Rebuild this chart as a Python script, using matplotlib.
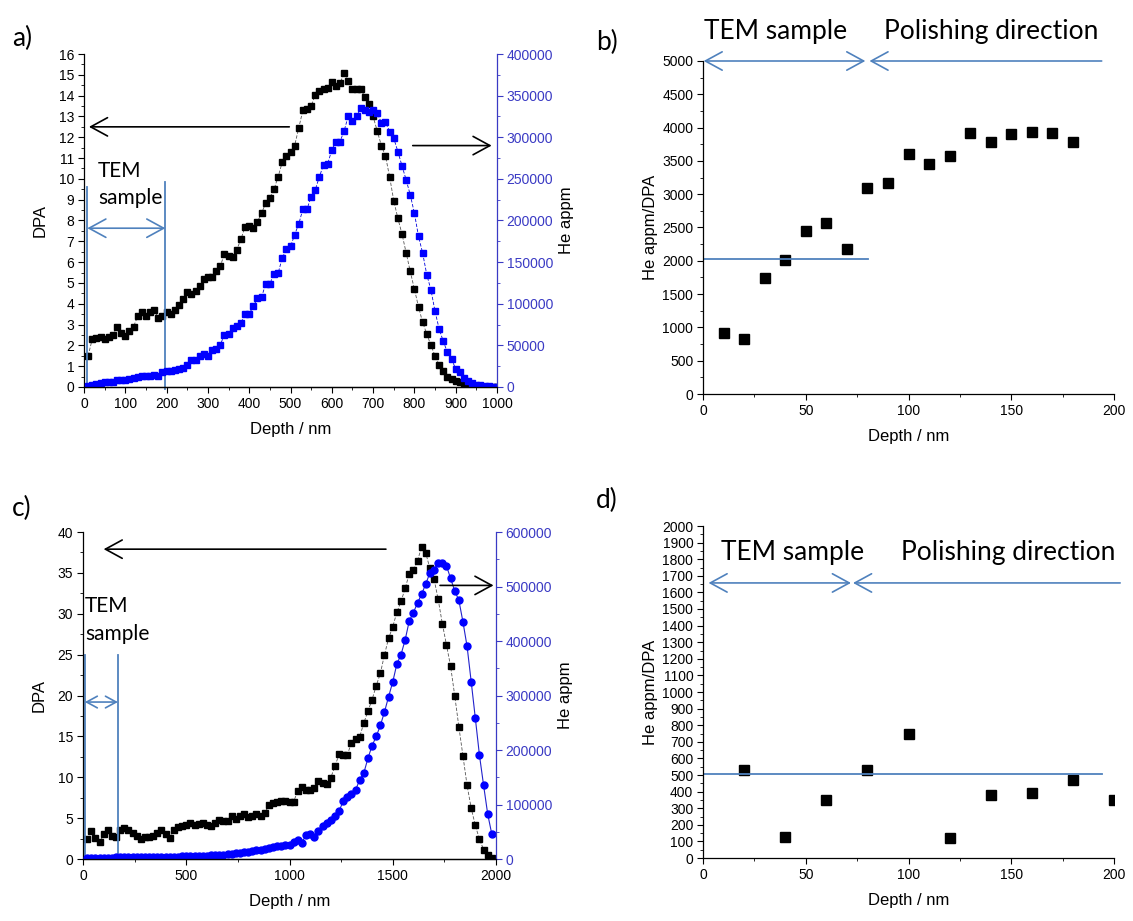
import matplotlib
matplotlib.use("Agg")
import matplotlib.pyplot as plt
import numpy as np
from matplotlib.ticker import MultipleLocator, FormatStrFormatter

# ---- panel a: DPA and He appm vs depth (10 nm bins) ----
depth_a = np.arange(10, 1001, 10)
dpa_a = [
    1.5, 2.3, 2.35, 2.4, 2.3, 2.4, 2.5, 2.9, 2.6, 2.45,
    2.7, 2.9, 3.4, 3.6, 3.4, 3.6, 3.7, 3.3, 3.4, 3.6,
    3.5, 3.7, 3.95, 4.25, 4.55, 4.45, 4.6, 4.85, 5.2, 5.3,
    5.3, 5.55, 5.8, 6.4, 6.3, 6.25, 6.6, 7.1, 7.7, 7.75,
    7.65, 7.95, 8.35, 8.85, 9.1, 9.5, 10.1, 10.8, 11.1, 11.3,
    11.6, 12.45, 13.3, 13.35, 13.5, 14.05, 14.2, 14.3, 14.35, 14.65,
    14.45, 14.6, 15.1, 14.7, 14.3, 14.3, 14.3, 13.95, 13.6, 13.0,
    12.3, 11.6, 11.1, 10.1, 8.95, 8.1, 7.35, 6.45, 5.55, 4.7,
    3.85, 3.1, 2.55, 2.0, 1.5, 1.05, 0.75, 0.5, 0.38, 0.3,
    0.22, 0.15, 0.1, 0.06, 0.03, 0.02, 0.01, 0.0, 0.0, 0.0,
]
he_a = [
    1600, 2800, 4000, 4800, 5600, 5600, 5600, 8000, 8800, 8800,
    9600, 10400, 12000, 12800, 12800, 13600, 14400, 12800, 17600, 18800,
    18800, 20000, 21600, 22800, 26800, 32800, 32000, 36800, 40000, 37600,
    44800, 45600, 50800, 62800, 64000, 70800, 72800, 76800, 88000, 88000,
    96800, 106800, 108000, 124000, 124000, 136000, 136800, 154800, 165600, 168800,
    182800, 196000, 213600, 213600, 228800, 236800, 252800, 266800, 268000, 284800,
    294800, 294800, 308000, 325600, 320000, 325600, 334800, 332800, 330800, 332800,
    328800, 317600, 318400, 306800, 298800, 282800, 265600, 248800, 230800, 208800,
    180800, 160800, 134800, 116800, 90800, 69600, 54800, 41600, 33600, 21600,
    17600, 10800, 6800, 4800, 2800, 2000, 800, 800, 0, 0,
]

# ---- panel b: He appm/DPA ----
depth_b = [10, 20, 30, 40, 50, 60, 70, 80, 90, 100, 110, 120, 130, 140, 150, 160, 170, 180]
ratio_b = [920, 820, 1740, 2010, 2440, 2570, 2170, 3100, 3170, 3610,
           3450, 3580, 3920, 3780, 3900, 3940, 3920, 3790]

# ---- panel c: DPA and He appm vs depth (20 nm bins) ----
depth_c = np.arange(20, 2001, 20)
dpa_c = [
    2.45, 3.4, 2.6, 2.05, 3.0, 3.6, 2.8, 2.7, 3.6, 3.8,
    3.6, 3.2, 2.8, 2.5, 2.7, 2.7, 2.8, 3.2, 3.5, 3.0,
    2.6, 3.6, 3.9, 4.0, 4.2, 4.4, 4.2, 4.3, 4.4, 4.1,
    4.0, 4.35, 4.8, 4.6, 4.7, 5.2, 4.9, 5.2, 5.45, 5.15,
    5.3, 5.45, 5.25, 5.6, 6.6, 6.9, 7.0, 7.1, 7.05, 7.0,
    7.0, 8.35, 8.8, 8.4, 8.5, 8.7, 9.55, 9.3, 9.2, 9.95,
    11.35, 12.8, 12.75, 12.75, 14.2, 14.7, 14.95, 16.65, 18.1, 19.5,
    21.2, 22.7, 25.0, 27.0, 28.4, 30.2, 31.5, 33.1, 34.9, 35.4,
    36.5, 38.2, 37.4, 35.55, 34.25, 31.75, 28.8, 26.2, 23.6, 20.0,
    16.2, 12.6, 9.0, 6.2, 4.1, 2.4, 1.15, 0.45, 0.15, 0.0,
]
depth_c_he = np.arange(20, 1981, 20)
he_c = [
    1500, 2000, 2000, 2000, 2500, 2500, 2500, 2800, 2800, 3000,
    3000, 3000, 3200, 3200, 3500, 3500, 3500, 3800, 3800, 4000,
    4200, 4200, 4500, 4800, 5000, 5200, 5500, 5500, 5800, 6000,
    6500, 7000, 7500, 8000, 9000, 9500, 10500, 11500, 12500, 13500,
    15000, 16500, 17000, 18500, 19500, 21500, 23000, 24300, 25600, 26500,
    32000, 35000, 30000, 44000, 46000, 40000, 51800, 59800, 65300, 72300,
    78500, 88000, 106000, 113000, 120000, 127000, 145000, 158000, 185000, 208000,
    225000, 245000, 270000, 298000, 325000, 358000, 375000, 402000, 437000, 452000,
    470000, 486000, 505000, 525000, 531000, 544000, 544000, 538000, 515000, 492000,
    475000, 435000, 390000, 325000, 258000, 190000, 135000, 82000, 45000,
]

# ---- panel d: He appm/DPA ----
depth_d = [20, 40, 60, 80, 100, 120, 140, 160, 180, 200]
ratio_d = [532, 126, 351, 528, 744, 120, 377, 393, 471, 347]

W, H = 1133, 921
AX_FONT = "Liberation Sans"
NOTE_FONT = "Lato"
NOTE_BLUE = "#4F81BD"
AXIS_BLUE = "#3a3ac4"
TICK_SIZE = 10
LABEL_SIZE = 12

plt.rcParams.update({
    "font.family": AX_FONT, "font.size": TICK_SIZE,
    "xtick.direction": "out", "ytick.direction": "out",
    "xtick.major.size": 4, "ytick.major.size": 4,
    "xtick.minor.size": 2.5, "ytick.minor.size": 2.5,
    "xtick.major.pad": 3, "ytick.major.pad": 3,
    "axes.linewidth": 0.9,
})

fig = plt.figure(figsize=(W / 100, H / 100), dpi=100)


def box(left, right, top, bottom):
    return [left / W, 1 - bottom / H, (right - left) / W, (bottom - top) / H]


def style(ax):
    ax.spines["top"].set_visible(False)
    ax.spines["right"].set_visible(False)
    ax.tick_params(labelsize=TICK_SIZE)


def style_right(ax2):
    ax2.spines["top"].set_visible(False)
    ax2.spines["left"].set_visible(False)
    ax2.spines["right"].set_color(AXIS_BLUE)
    ax2.tick_params(axis="y", which="both", colors=AXIS_BLUE, labelsize=TICK_SIZE)


def arrow(ax, start, end, color, style_="->", lw=1.2, scale=22):
    ax.annotate("", xy=end, xytext=start, annotation_clip=False,
                arrowprops=dict(arrowstyle=style_ + ",head_length=0.55,head_width=0.3",
                                color=color, lw=lw, shrinkA=0, shrinkB=0,
                                mutation_scale=scale))


def panel_letter(x, y, s):
    fig.text(x / W, 1 - y / H, s, fontsize=19, family=NOTE_FONT, va="center")


# ---------------- panel a ----------------
ax_a = fig.add_axes(box(84, 497, 54, 387))
ax_a2 = ax_a.twinx()
ax_a.plot(depth_a, dpa_a, ls=(0, (4, 2)), lw=0.6, color="#555555",
          marker="s", ms=5, mfc="black", mec="black")
ax_a2.plot(depth_a, he_a, ls=(0, (4, 2)), lw=0.6, color="#0000dd",
           marker="s", ms=5, mfc="#0000ff", mec="#0000ff")
ax_a.set_xlim(0, 1000)
ax_a.set_ylim(0, 16)
ax_a2.set_ylim(0, 400000)
ax_a.xaxis.set_major_locator(MultipleLocator(100))
ax_a.xaxis.set_minor_locator(MultipleLocator(50))
ax_a.yaxis.set_major_locator(MultipleLocator(1))
ax_a.yaxis.set_minor_locator(MultipleLocator(0.5))
ax_a2.yaxis.set_major_locator(MultipleLocator(50000))
ax_a2.yaxis.set_minor_locator(MultipleLocator(25000))
ax_a2.yaxis.set_major_formatter(FormatStrFormatter("%d"))
style(ax_a)
style_right(ax_a2)
ax_a.set_xlabel("Depth / nm", fontsize=LABEL_SIZE, labelpad=8)
ax_a.set_ylabel("DPA", fontsize=LABEL_SIZE, labelpad=8)
ax_a2.set_ylabel("He appm", fontsize=LABEL_SIZE, labelpad=4)

ax_a.plot([8, 8], [0, 9.6], color=NOTE_BLUE, lw=1.3)
ax_a.plot([197, 197], [-0.1, 9.85], color=NOTE_BLUE, lw=1.3, clip_on=False)
arrow(ax_a, (8, 7.63), (197, 7.63), NOTE_BLUE, "<->", lw=1.2)
ax_a.text(34, 10.4, "TEM", family=NOTE_FONT, fontsize=15, va="center")
ax_a.text(34, 9.1, "sample", family=NOTE_FONT, fontsize=15, va="center")
arrow(ax_a, (497, 12.5), (12, 12.5), "black")
arrow(ax_a2, (796, 290000), (987, 290000), "black")
panel_letter(12, 38, "a)")

# ---------------- panel b ----------------
ax_b = fig.add_axes(box(703, 1114, 61, 394))
ax_b.plot(depth_b, ratio_b, ls="none", marker="s", ms=6.5, color="black")
ax_b.set_xlim(0, 200)
ax_b.set_ylim(0, 5000)
ax_b.xaxis.set_major_locator(MultipleLocator(50))
ax_b.xaxis.set_minor_locator(MultipleLocator(25))
ax_b.yaxis.set_major_locator(MultipleLocator(500))
ax_b.yaxis.set_minor_locator(MultipleLocator(250))
style(ax_b)
ax_b.set_xlabel("Depth / nm", fontsize=LABEL_SIZE, labelpad=8)
ax_b.set_ylabel("He appm/DPA", fontsize=LABEL_SIZE, labelpad=3)
ax_b.plot([0, 80.5], [2030, 2030], color=NOTE_BLUE, lw=1.3)
arrow(ax_b, (0.3, 5000), (79, 5000), NOTE_BLUE, "<->")
arrow(ax_b, (194, 5000), (81, 5000), NOTE_BLUE)
ax_b.text(0.5, 5440, "TEM sample", family=NOTE_FONT, fontsize=19, va="center")
ax_b.text(88, 5440, "Polishing direction", family=NOTE_FONT, fontsize=19, va="center")
panel_letter(596, 42, "b)")

# ---------------- panel c ----------------
ax_c = fig.add_axes(box(83, 496, 532, 859))
ax_c2 = ax_c.twinx()
ax_c.plot(depth_c, dpa_c, ls=(0, (4, 2)), lw=0.6, color="#555555",
          marker="s", ms=4.5, mfc="black", mec="black")
ax_c2.plot(depth_c_he, he_c, ls="-", lw=0.8, color="#2222cc",
           marker="o", ms=5, mfc="#0000ff", mec="#0000ff")
ax_c.set_xlim(0, 2000)
ax_c.set_ylim(0, 40)
ax_c2.set_ylim(0, 600000)
ax_c.xaxis.set_major_locator(MultipleLocator(500))
ax_c.xaxis.set_minor_locator(MultipleLocator(250))
ax_c.yaxis.set_major_locator(MultipleLocator(5))
ax_c.yaxis.set_minor_locator(MultipleLocator(2.5))
ax_c2.yaxis.set_major_locator(MultipleLocator(100000))
ax_c2.yaxis.set_minor_locator(MultipleLocator(50000))
ax_c2.yaxis.set_major_formatter(FormatStrFormatter("%d"))
style(ax_c)
style_right(ax_c2)
ax_c.set_xlabel("Depth / nm", fontsize=LABEL_SIZE, labelpad=8)
ax_c.set_ylabel("DPA", fontsize=LABEL_SIZE, labelpad=8)
ax_c2.set_ylabel("He appm", fontsize=LABEL_SIZE, labelpad=4)

ax_c.plot([9, 9], [0, 25], color=NOTE_BLUE, lw=1.3)
ax_c.plot([169, 169], [0, 25], color=NOTE_BLUE, lw=1.3)
arrow(ax_c, (9, 19.2), (169, 19.2), NOTE_BLUE, "<->", scale=14)
ax_c.text(10, 30.9, "TEM", family=NOTE_FONT, fontsize=15, va="center")
ax_c.text(10, 27.5, "sample", family=NOTE_FONT, fontsize=15, va="center")
arrow(ax_c, (1467, 37.9), (100, 37.9), "black")
arrow(ax_c2, (1729, 502000), (1988, 502000), "black")
panel_letter(12, 508, "c)")

# ---------------- panel d ----------------
ax_d = fig.add_axes(box(703, 1114, 526, 858))
ax_d.plot(depth_d, ratio_d, ls="none", marker="s", ms=6.5, color="black")
ax_d.set_xlim(0, 200)
ax_d.set_ylim(0, 2000)
ax_d.xaxis.set_major_locator(MultipleLocator(50))
ax_d.xaxis.set_minor_locator(MultipleLocator(25))
ax_d.yaxis.set_major_locator(MultipleLocator(100))
ax_d.yaxis.set_minor_locator(MultipleLocator(50))
style(ax_d)
ax_d.set_xlabel("Depth / nm", fontsize=LABEL_SIZE, labelpad=8)
ax_d.set_ylabel("He appm/DPA", fontsize=LABEL_SIZE, labelpad=3)
ax_d.plot([0, 194], [505, 505], color=NOTE_BLUE, lw=1.3)
arrow(ax_d, (2.7, 1657), (72, 1657), NOTE_BLUE, "<->")
arrow(ax_d, (203, 1657), (73, 1657), NOTE_BLUE)
ax_d.text(9, 1840, "TEM sample", family=NOTE_FONT, fontsize=19, va="center")
ax_d.text(96.5, 1840, "Polishing direction", family=NOTE_FONT, fontsize=19, va="center")
panel_letter(596, 500, "d)")

fig.savefig("out.png", dpi=100)
